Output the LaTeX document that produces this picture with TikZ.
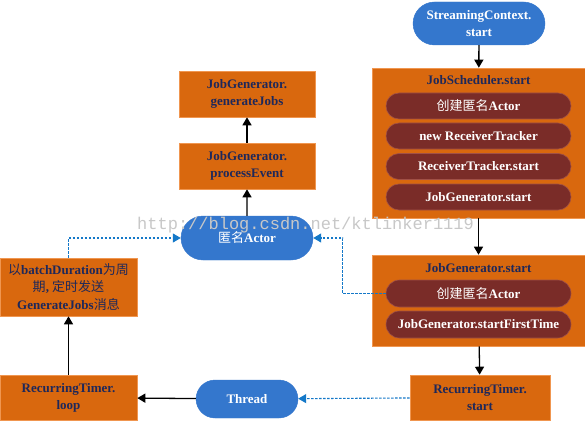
\documentclass[tikz,border=0pt]{standalone}
\usepackage{fontspec}
\setmainfont{Liberation Serif}
\newfontfamily\cjk{Noto Sans CJK SC}
\newfontfamily\wmfont{Liberation Mono}
\usetikzlibrary{arrows.meta,shapes.misc}
\definecolor{orng}{RGB}{217,104,14}
\definecolor{orngedge}{RGB}{240,150,80}
\definecolor{dred}{RGB}{122,44,40}
\definecolor{dredge}{RGB}{160,80,70}
\definecolor{blu}{RGB}{52,119,205}
\definecolor{navy}{RGB}{30,40,90}
\definecolor{dashblue}{RGB}{20,120,200}
\definecolor{wm}{RGB}{200,200,200}
\tikzset{
  obox/.style={fill=orng,draw=orngedge,line width=0.6pt,text=navy,font=\bfseries\fontsize{13}{17}\selectfont,align=center,inner sep=0pt},
  frame/.style={fill=orng,draw=orngedge,line width=0.6pt,inner sep=0pt},
  pill/.style={rounded rectangle,fill=dred,draw=dredge,line width=0.6pt,text=white,font=\bfseries\fontsize{13}{15}\selectfont,inner sep=0pt,minimum width=185pt,minimum height=26pt},
  bpill/.style={rounded rectangle,fill=blu,draw=blu,text=white,font=\bfseries\fontsize{13}{17}\selectfont,align=center,inner sep=0pt},
  arr/.style={-{Triangle[length=8pt,width=9pt]},line width=1.3pt,black},
  darr/.style={-{Triangle[length=8pt,width=9pt]},line width=1.1pt,dashblue,dash pattern=on 2.5pt off 1.5pt},
  ttl/.style={text=navy,font=\bfseries\fontsize{13}{15}\selectfont,inner sep=0pt}
}
\begin{document}
\begin{tikzpicture}[x=1pt,y=-1pt]
\useasboundingbox (0,0) rectangle (585,422);
\fill[white] (0,0) rectangle (585,422);
% StreamingContext
\node[bpill,minimum width=132pt,minimum height=43pt] (sc) at (479,23.5) {StreamingContext.\\start};
% JobScheduler frame
\node[frame,minimum width=213pt,minimum height=150pt] (js) at (478.5,143) {};
\node[ttl] (jst) at (478.5,80) {JobScheduler.start};
\node[pill] (p1) at (478.5,106) {{\cjk\mdseries 创建匿名}Actor};
\node[pill] (p2) at (478.5,136) {new ReceiverTracker};
\node[pill] (p3) at (478.5,166.5) {ReceiverTracker.start};
\node[pill] (p4) at (478.5,197) {JobGenerator.start};
% JobGenerator.start frame
\node[frame,minimum width=213pt,minimum height=91pt] (jg) at (478.5,300.5) {};
\node[ttl] (jgt) at (478.5,268) {JobGenerator.start};
\node[pill,minimum height=27pt] (q1) at (478.5,293.5) {{\cjk\mdseries 创建匿名}Actor};
\node[pill,minimum height=27pt] (q2) at (478.5,324.5) {JobGenerator.startFirstTime};
% RecurringTimer.start
\node[obox,minimum width=140pt,minimum height=45pt] (rts) at (480,397.5) {RecurringTimer.\\start};
% Thread
\node[bpill,minimum width=102pt,minimum height=38pt] (th) at (247,399) {Thread};
% RecurringTimer.loop
\node[obox,minimum width=137pt,minimum height=45pt] (rtl) at (68.5,397.5) {RecurringTimer.\\loop};
% message box
\node[obox,minimum width=137pt,minimum height=58pt,font=\bfseries\fontsize{13}{17.5}\selectfont] (msg) at (68.5,287) {{\cjk\mdseries 以}batchDuration{\cjk\mdseries 为周}\\{\cjk\mdseries 期}, {\cjk\mdseries 定时发送}\\GenerateJobs{\cjk\mdseries 消息}};
% Actor
\node[bpill,minimum width=132pt,minimum height=44pt] (act) at (247,238) {{\cjk\mdseries 匿名}Actor};
% processEvent, generateJobs
\node[obox,minimum width=136pt,minimum height=46pt] (pe) at (247,166) {JobGenerator.\\processEvent};
\node[obox,minimum width=136pt,minimum height=46pt] (gj) at (247,94) {JobGenerator.\\generateJobs};
% watermark
\node[text=wm,font=\wmfont\fontsize{17}{17}\selectfont,anchor=base west,inner sep=0pt] (wmk) at (137,229) {http://blog.csdn.net/ktlinker1119};
% connectors
\draw[arr] (sc) -- (js);
\draw[arr] (js) -- (jg);
\draw[arr] (jg) -- (rts);
\draw[darr] (rts) -- (th);
\draw[arr] (th) -- (rtl);
\draw[arr] (rtl) -- (msg);
\draw[darr] (msg.north) |- (act.west);
\draw[darr] (q1.west) -- ++(-43,0) |- (act.east);
\draw[arr] (act) -- (pe);
\draw[arr] (pe) -- (gj);
\end{tikzpicture}
\end{document}
